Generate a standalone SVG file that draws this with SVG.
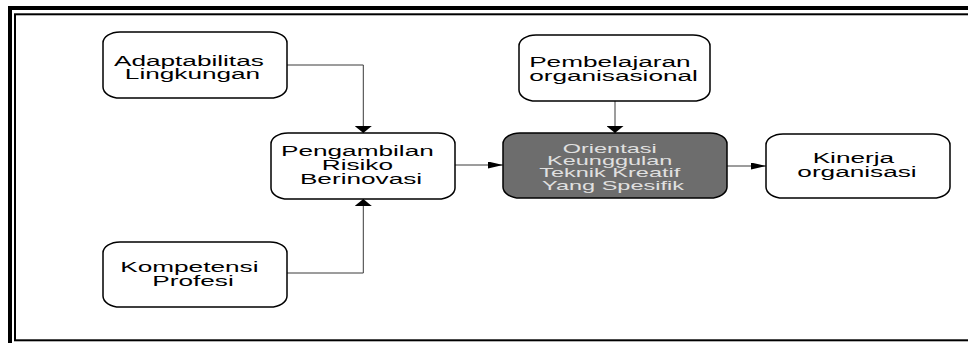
<svg xmlns="http://www.w3.org/2000/svg" width="968" height="343" viewBox="0 0 968 343">
  <style>
    .box { fill: #ffffff; stroke: #000000; stroke-width: 1.5; }
    .dark { fill: #6d6d6d; stroke: #000000; stroke-width: 1.5; }
    .lbl { font-family: "Liberation Sans", Arial, sans-serif; font-size: 14px; fill: #000000; text-anchor: middle; }
    .lbl-light { font-size: 12.5px; fill: #e0e0e0; }
    .conn { fill: none; stroke: #3a3a3a; stroke-width: 1; }
  </style>
  <defs>
    <marker id="arr-h" markerUnits="userSpaceOnUse" markerWidth="15" markerHeight="7" viewBox="0 0 15 7" refX="15" refY="3.5" orient="auto">
      <path d="M0,0 L15,3.5 L0,7 z" fill="#000000"/>
    </marker>
    <marker id="arr-v" markerUnits="userSpaceOnUse" markerWidth="7" markerHeight="17" viewBox="0 0 7 17" refX="7" refY="8.5" orient="auto">
      <path d="M0,0 L7,8.5 L0,17 z" fill="#000000"/>
    </marker>
  </defs>

  <!-- page frame: thick outer rule and thin inner rule -->
  <g id="frame" fill="none" stroke="#000000">
    <rect x="10" y="8" width="970" height="345" stroke-width="4"/>
    <rect x="15" y="14.3" width="965" height="326" stroke-width="2"/>
  </g>

  <!-- connectors -->
  <g id="connectors">
    <path class="conn" d="M287,65 H363.3 V133" marker-end="url(#arr-v)"/>
    <path class="conn" d="M287,273 H363.3 V199" marker-end="url(#arr-v)"/>
    <path class="conn" d="M615,101 V133" marker-end="url(#arr-v)"/>
    <path class="conn" d="M455,165 H503" marker-end="url(#arr-h)"/>
    <path class="conn" d="M727,166 H766" marker-end="url(#arr-h)"/>
  </g>

  <g id="adaptabilitas">
    <rect class="box" x="103" y="32" width="184" height="66" rx="17" ry="11" stroke-width="2"/>
    <text class="lbl" transform="translate(192.5 0) scale(1.87 1)">
      <tspan x="0" y="66">Adaptabilitas</tspan>
      <tspan x="0" y="79.5">Lingkungan</tspan>
    </text>
  </g>

  <g id="kompetensi">
    <rect class="box" x="103" y="242" width="184" height="65" rx="17" ry="11"/>
    <text class="lbl" transform="translate(193 0) scale(1.87 1)">
      <tspan x="0" y="271.7">Kompetensi</tspan>
      <tspan x="0" y="285.7">Profesi</tspan>
    </text>
  </g>

  <g id="pengambilan">
    <rect class="box" x="271" y="133" width="184" height="66" rx="17" ry="11"/>
    <text class="lbl" transform="translate(361 0) scale(1.87 1)">
      <tspan x="0" y="156.5">Pengambilan</tspan>
      <tspan x="0" y="170.5">Risiko</tspan>
      <tspan x="0" y="184.5">Berinovasi</tspan>
    </text>
  </g>

  <g id="pembelajaran">
    <rect class="box" x="519" y="35" width="191" height="66" rx="17" ry="11"/>
    <text class="lbl" transform="translate(613.5 0) scale(1.87 1)">
      <tspan x="0" y="67.5">Pembelajaran</tspan>
      <tspan x="0" y="81">organisasional</tspan>
    </text>
  </g>

  <g id="orientasi">
    <rect class="dark" x="503" y="133" width="224" height="65" rx="17" ry="11"/>
    <text class="lbl lbl-light" transform="translate(613 0) scale(1.88 1)">
      <tspan x="0" y="152.7">Orientasi</tspan>
      <tspan x="0" y="165">Keunggulan</tspan>
      <tspan x="0" y="177.5">Teknik Kreatif</tspan>
      <tspan x="0" y="190">Yang Spesifik</tspan>
    </text>
  </g>

  <g id="kinerja">
    <rect class="box" x="766" y="134" width="184" height="64" rx="17" ry="11"/>
    <text class="lbl" transform="translate(857 0) scale(1.87 1)">
      <tspan x="0" y="163">Kinerja</tspan>
      <tspan x="0" y="177">organisasi</tspan>
    </text>
  </g>
</svg>
